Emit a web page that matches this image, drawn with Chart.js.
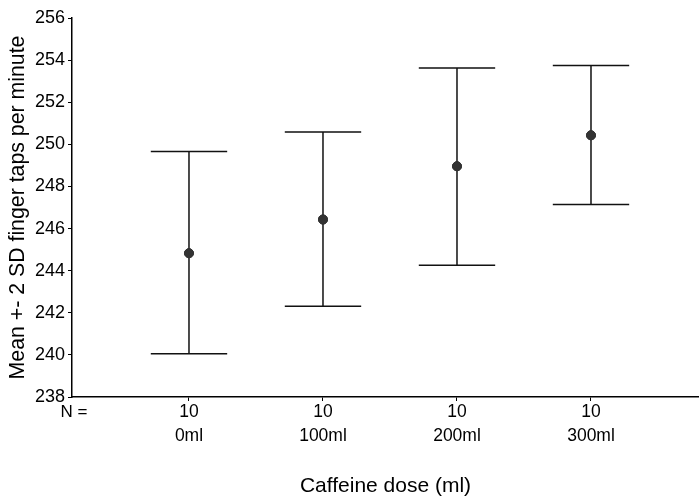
<!DOCTYPE html>
<html>
<head>
<meta charset="utf-8">
<script src="https://cdn.jsdelivr.net/npm/chart.js@4/dist/chart.umd.min.js"></script>
<style>
  html, body { margin: 0; padding: 0; background: #fff; }
  #wrap { width: 699px; height: 497px; position: relative; }
</style>
</head>
<body>
<div id="wrap"><canvas id="chart"></canvas></div>
<script>
const categories = ['0ml', '100ml', '200ml', '300ml'];
const counts = ['10', '10', '10', '10'];
const means = [244.83, 246.43, 248.96, 250.43];
const upper = [249.66, 250.59, 253.63, 253.74];
const lower = [240.05, 242.31, 244.26, 247.14];
const yTicks = [238, 240, 242, 244, 246, 248, 250, 252, 254, 256];

const FONT = 'Liberation Sans, Arial, Helvetica, sans-serif';
const positions = categories.map((c, i) => i);

const errorBars = {
  id: 'errorBars',
  afterDatasetsDraw(chart) {
    const { ctx, scales: { x, y } } = chart;
    ctx.save();
    ctx.strokeStyle = '#111';
    ctx.lineWidth = 1.5;
    positions.forEach((p, i) => {
      const px = x.getPixelForValue(p);
      const half = x.getPixelForValue(p + 0.285) - px;
      const top = y.getPixelForValue(upper[i]);
      const bot = y.getPixelForValue(lower[i]);
      ctx.beginPath();
      ctx.moveTo(px, top);
      ctx.lineTo(px, bot);
      ctx.moveTo(px - half, top);
      ctx.lineTo(px + half, top);
      ctx.moveTo(px - half, bot);
      ctx.lineTo(px + half, bot);
      ctx.stroke();
    });
    // redraw the means over the bars
    const meta = chart.getDatasetMeta(0);
    meta.data.forEach((pt) => pt.draw(ctx));
    // N = label
    ctx.fillStyle = '#000';
    ctx.font = '17px ' + FONT;
    ctx.textAlign = 'center';
    ctx.textBaseline = 'middle';
    ctx.fillText('N =', 74, x.top + 15);
    ctx.restore();
  }
};

new Chart(document.getElementById('chart'), {
  type: 'scatter',
  data: {
    datasets: [{
      data: positions.map((p, i) => ({ x: p, y: means[i] })),
      backgroundColor: '#333',
      borderColor: '#333',
      pointRadius: 4.5,
      pointHoverRadius: 4.5,
    }],
  },
  options: {
    responsive: true,
    maintainAspectRatio: false,
    animation: false,
    events: [],
    layout: { autoPadding: false, padding: { top: 18, right: 0, left: 0, bottom: 0 } },
    plugins: { legend: { display: false }, tooltip: { enabled: false } },
    scales: {
      x: {
        type: 'linear',
        min: -0.873,
        max: 3.806,
        afterBuildTicks: (scale) => { scale.ticks = positions.map((v) => ({ value: v })); },
        afterFit: (scale) => {
          scale.height = 100;
          scale.paddingLeft = 0;
          scale.paddingRight = 0;
        },
        border: { color: '#000', width: 1.5 },
        grid: { drawOnChartArea: false, color: '#000', tickLength: 4, tickWidth: 1 },
        ticks: {
          color: '#000',
          padding: -1,
          maxRotation: 0,
          autoSkip: false,
          font: { family: FONT, size: 17.5, lineHeight: 24 / 17.5 },
          callback: (v, i) => [counts[i], categories[i]],
        },
        title: {
          display: true,
          text: 'Caffeine dose (ml)',
          color: '#000',
          font: { family: FONT, size: 21, lineHeight: 1 },
          padding: { top: 0, bottom: 0.5 },
        },
      },
      y: {
        min: 238,
        max: 256,
        afterBuildTicks: (scale) => { scale.ticks = yTicks.map((v) => ({ value: v })); },
        afterFit: (scale) => { scale.width = 72; },
        border: { color: '#000', width: 1.5 },
        grid: { drawOnChartArea: false, color: '#000', tickLength: 4, tickWidth: 1 },
        ticks: {
          color: '#000',
          padding: 3,
          font: { family: FONT, size: 18 },
        },
        title: {
          display: true,
          text: 'Mean +- 2 SD finger taps per minute',
          color: '#000',
          font: { family: FONT, size: 21.3 },
          padding: { top: 5, bottom: 0 },
        },
      },
    },
  },
  plugins: [errorBars],
});
</script>
</body>
</html>
